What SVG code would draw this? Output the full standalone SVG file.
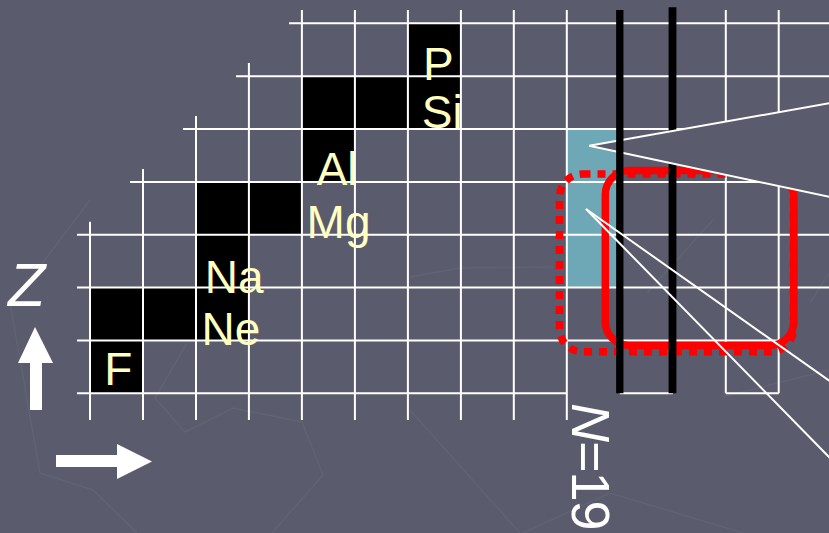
<svg xmlns="http://www.w3.org/2000/svg" width="829" height="533" viewBox="0 0 829 533">
  <style>
    .grid { stroke: #ffffff; stroke-width: 2; fill: none; }
    .cell { fill: #000000; }
    .lbl { font-family: "Liberation Sans", Arial, sans-serif; font-size: 46px; fill: #FFFFC2; }
    .deco { stroke: #ffffff; stroke-opacity: 0.045; stroke-width: 1.5; fill: none; }
    .bar { stroke: #000000; fill: none; }
    .call { stroke: #ffffff; stroke-width: 2; }
  </style>
  <rect id="background" x="0" y="0" width="829" height="533" fill="#5A5B6C"/>

  <g id="decoration">
    <polyline class="deco" points="90,200 47,257 10,303 40,473 93,490 137,533"/>
    <polyline class="deco" points="187,343 155,398 185,432 233,408 302,422 323,475 272,533"/>
    <polyline class="deco" points="410,410 520,533"/>
    <polyline class="deco" points="523,533 610,493 743,533"/>
    <polyline class="deco" points="723,397 829,370"/>
    <polyline class="deco" points="810,303 829,273"/>
    <polyline class="deco" points="410,277 460,268 553,267"/>
    <polyline class="deco" points="647,293 713,220"/>
  </g>

  <g id="cells">
    <rect id="cell-F" class="cell" x="90" y="340.4" width="53" height="52.9"/>
    <rect id="cells-Ne" class="cell" x="90" y="287.6" width="158.9" height="52.8"/>
    <rect id="cells-Na" class="cell" x="196" y="181.9" width="52.9" height="105.7"/>
    <rect id="cells-Mg" class="cell" x="248.9" y="181.9" width="53" height="52.8"/>
    <rect id="cells-Al" class="cell" x="301.9" y="76.2" width="53" height="105.7"/>
    <rect id="cells-Si" class="cell" x="354.9" y="76.2" width="53" height="52.8"/>
    <rect id="cells-P" class="cell" x="407.9" y="23.3" width="53" height="105.7"/>
    <rect id="cells-N19" x="566.8" y="129" width="53" height="158.6" fill="#6EA8B6"/>
  </g>

  <g id="grid" class="grid">
    <path d="M90 221.7V420 M143 169V420 M196 116V420 M248.9 63V420 M301.9 10V420 M354.9 10V420 M407.9 10V420 M460.9 10V420 M513.8 10V420 M566.8 10V420 M725.8 10V393.3 M778.7 10V393.3"/>
    <path d="M289 23.3H829 M236 76.2H829 M183 129H829 M130 181.9H829 M77 234.7H829 M77 287.6H829 M77 340.4H778.7 M77 393.3H566.8 M619.8 393.3H672.8 M725.8 393.3H778.7"/>
  </g>

  <g id="shell-boxes">
    <rect id="dotted-box" x="559.5" y="174" width="234" height="177.7" rx="23" fill="none" stroke="#FF0000" stroke-width="7.5" stroke-dasharray="8 7"/>
    <rect id="solid-box" x="605.3" y="170.5" width="188.5" height="175" rx="24" fill="none" stroke="#FF0000" stroke-width="7.5"/>
  </g>

  <line id="bar-N21" class="bar" x1="672.5" y1="7.3" x2="672.5" y2="393.3" stroke-width="7.8"/>

  <g id="connectors">
    <polygon id="callout-upper" points="589.3,145.7 840,101.4 840,199.1" fill="#5A5B6C" stroke="#ffffff" stroke-width="2"/>
  </g>

  <line id="bar-N20" class="bar" x1="619.8" y1="10" x2="619.8" y2="393.3" stroke-width="7.3"/>

  <g id="callout-lower">
    <line class="call" x1="586" y1="209" x2="840" y2="388.3"/>
    <line class="call" x1="586" y1="209" x2="840" y2="468.2"/>
  </g>

  <g id="labels">
    <text class="lbl" x="423" y="80">P</text>
    <text class="lbl" x="421.8" y="128.3">Si</text>
    <text class="lbl" x="316.7" y="185">Al</text>
    <text class="lbl" x="306.6" y="238">Mg</text>
    <text class="lbl" x="204.8" y="293">Na</text>
    <text class="lbl" x="201.5" y="345">Ne</text>
    <text class="lbl" x="104.3" y="385">F</text>
  </g>

  <g id="axes">
    <text x="8" y="306" font-family="Liberation Sans, Arial, sans-serif" font-size="61" font-style="italic" fill="#ffffff">Z</text>
    <polygon points="35,327 53,363 42,363 42,410 30,410 30,363 18,363" fill="#ffffff"/>
    <polygon points="56,455 117,455 117,444 152,461.5 117,479 117,467 56,467" fill="#ffffff"/>
    <text transform="translate(571.5,403) rotate(90)" font-family="Liberation Sans, Arial, sans-serif" font-size="54" letter-spacing="-1" fill="#ffffff"><tspan font-style="italic">N</tspan>=19</text>
  </g>
</svg>
